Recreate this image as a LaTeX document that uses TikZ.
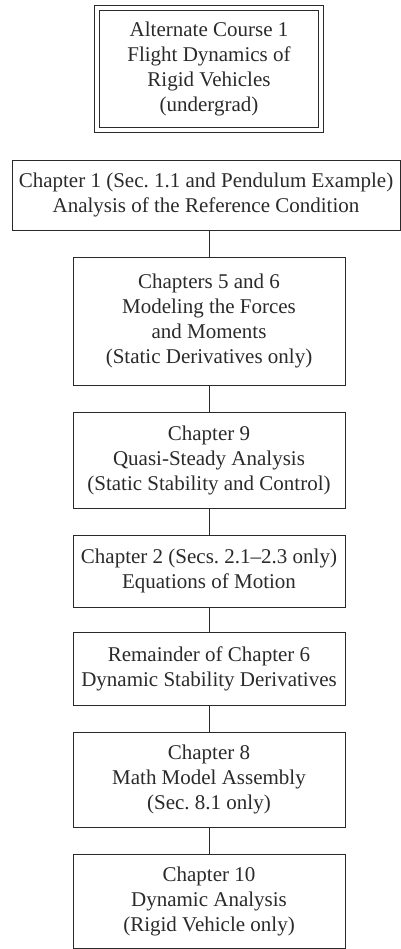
\documentclass[tikz,border=0pt]{standalone}
\usepackage{fontspec}
\setmainfont{Liberation Serif}
\definecolor{ink}{HTML}{2A2A2A}
\newcommand{\boxfont}{\fontsize{21}{25}\selectfont}
\begin{document}
\begin{tikzpicture}[x=1pt,y=-1pt,
  box/.style={draw=ink, line width=0.95pt, inner sep=0pt, align=center,
    font=\boxfont, text=ink},
  dbox/.style={box, double=white, double distance=4.2pt},
  link/.style={draw=ink, line width=0.95pt}]
\useasboundingbox (0,0) rectangle (400,949);
\node[dbox, minimum width=224pt, minimum height=122pt, font=\fontsize{21}{25.3}\selectfont] (t0) at (209,69)
  {Alternate Course 1\\Flight Dynamics of\\Rigid Vehicles\\(undergrad)};
\node[box, minimum width=388pt, minimum height=70pt] (b2) at (206,195)
  {Chapter 1 (Sec.\ 1.1 and Pendulum Example)\\Analysis of the Reference Condition};
\node[box, minimum width=272pt, minimum height=128pt] (b3) at (209,321)
  {Chapters 5 and 6\\Modeling the Forces\\and Moments\\(Static Derivatives only)};
\node[box, minimum width=272pt, minimum height=96pt] (b4) at (209,460)
  {Chapter 9\\Quasi-Steady Analysis\\(Static Stability and Control)};
\node[box, minimum width=272pt, minimum height=72pt] (b5) at (209,571)
  {Chapter 2 (Secs.\ 2.1--2.3 only)\\Equations of Motion};
\node[box, minimum width=272pt, minimum height=73pt] (b6) at (209,668.5)
  {Remainder of Chapter 6\\Dynamic Stability Derivatives};
\node[box, minimum width=272pt, minimum height=95pt] (b7) at (209,779.5)
  {Chapter 8\\Math Model Assembly\\(Sec.\ 8.1 only)};
\node[box, minimum width=272pt, minimum height=94pt] (b8) at (209,901)
  {Chapter 10\\Dynamic Analysis\\(Rigid Vehicle only)};
\draw[link] (b3.north) -- (b3.north |- b2.south);
\draw[link] (b3.south) -- (b4.north);
\draw[link] (b4.south) -- (b5.north);
\draw[link] (b5.south) -- (b6.north);
\draw[link] (b6.south) -- (b7.north);
\draw[link] (b7.south) -- (b8.north);
\end{tikzpicture}
\end{document}
